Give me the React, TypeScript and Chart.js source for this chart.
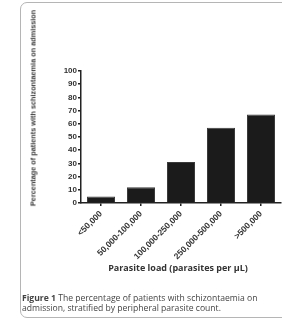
import React, { useEffect, useRef } from "react";
import { Chart, registerables } from "chart.js";

Chart.register(...registerables);

const categories = ["<50,000", "50,000-100,000", "100,000-250,000", "250,000-500,000", ">500,000"];
const percentages = [5, 12, 31, 57, 67];
const yTicks = [0, 10, 20, 30, 40, 50, 60, 70, 80, 90, 100];

const yTitle = "Percentage of patients with schizontaemia on admission";
const xTitle = "Parasite load (parasites per \u03bcL)";
const captionBold = "Figure 1";
const captionLine1 = " The percentage of patients with schizontaemia on";
const captionLine2 = "admission, stratified by peripheral parasite count.";

export default function App() {
  const ref = useRef<HTMLCanvasElement | null>(null);

  useEffect(() => {
    if (!ref.current) return;
    const yFont = { family: "'Liberation Sans', Arial, sans-serif", size: 8, weight: "bold" as const };
    const xFont = { family: "'Liberation Sans', Arial, sans-serif", size: 8.5, weight: "bold" as const };
    const chart = new Chart(ref.current, {
      type: "bar",
      data: {
        labels: categories,
        datasets: [
          {
            data: percentages,
            backgroundColor: "#1b1b1b",
            borderColor: "#3a3a3a",
            borderWidth: 1,
            barPercentage: 0.7,
            categoryPercentage: 1,
          },
        ],
      },
      options: {
        responsive: false,
        devicePixelRatio: 1,
        animation: false,
        layout: { padding: { left: 50, top: 71, right: 1, bottom: 0 } },
        plugins: { legend: { display: false }, tooltip: { enabled: false }, title: { display: false } },
        scales: {
          x: {
            type: "category",
            offset: true,
            grid: { display: true, offset: false, drawOnChartArea: false, drawTicks: true, tickLength: 3, color: "#222", lineWidth: 1.5 },
            border: { display: true, color: "#222", width: 1.5 },
            ticks: { minRotation: 45, maxRotation: 45, autoSkip: false, font: xFont, color: "#333", padding: 3 },
            afterFit: (s: any) => { s.height = 77; },
          },
          y: {
            min: 0,
            max: 100,
            afterBuildTicks: (s: any) => { s.ticks = yTicks.map((v) => ({ value: v })); },
            grid: { display: true, drawOnChartArea: false, drawTicks: true, tickLength: 3, color: "#222", lineWidth: 1.5 },
            border: { display: true, color: "#222", width: 1.5 },
            ticks: { font: yFont, color: "#333", padding: 1, autoSkip: false },
            afterFit: (s: any) => { s.width = 31; },
          },
        },
      },
    });
    return () => chart.destroy();
  }, []);

  return (
    <div style={{ position: "absolute", left: 0, top: 0, width: 282, height: 323, background: "#fff", overflow: "hidden" }}>
      <div
        style={{
          position: "absolute",
          left: 20,
          top: 2,
          width: 300,
          height: 316,
          border: "1px solid #b5b5b5",
          borderRadius: 7,
          boxSizing: "border-box",
        }}
      />
      <canvas ref={ref} width={282} height={280} style={{ position: "absolute", left: 0, top: 0 }} />
      <div
        style={{
          position: "absolute",
          left: 33,
          top: 108,
          transform: "translate(-50%, -50%) rotate(-90deg)",
          whiteSpace: "nowrap",
          font: "bold 7.3px 'Liberation Sans', Arial, sans-serif",
          color: "#3a3a3a",
        }}
      >
        {yTitle}
      </div>
      <div
        style={{
          position: "absolute",
          left: 178,
          top: 267,
          transform: "translate(-50%, -50%)",
          whiteSpace: "nowrap",
          font: "bold 9px 'Open Sans', sans-serif",
          color: "#333",
        }}
      >
        {xTitle}
      </div>
      <div
        style={{
          position: "absolute",
          left: 22,
          top: 293,
          whiteSpace: "nowrap",
          font: "8.6px 'Open Sans', sans-serif",
          lineHeight: "10px",
          color: "#444",
        }}
      >
        <b>{captionBold}</b>
        {captionLine1}
        <br />
        {captionLine2}
      </div>
    </div>
  );
}
